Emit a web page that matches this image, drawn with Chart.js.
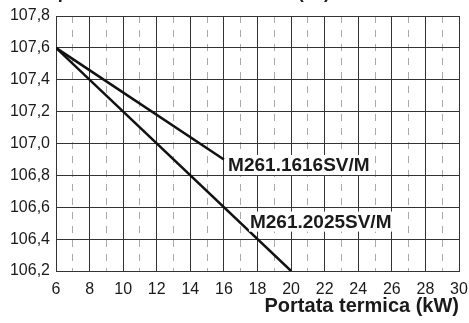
<!DOCTYPE html>
<html>
<head>
<meta charset="utf-8">
<script src="https://cdn.jsdelivr.net/npm/chart.js@4/dist/chart.umd.min.js"></script>
<style>
  html, body { margin: 0; padding: 0; background: #fff; }
  #wrap { width: 469px; height: 323px; }
</style>
</head>
<body>
<div id="wrap"><canvas id="myChart"></canvas></div>
<script>
const ctx = document.getElementById('myChart').getContext('2d');

// curve data (kW -> °C)
const loadKw1616 = [6, 16];
const tempC1616 = [107.6, 106.9];
const loadKw2025 = [6, 20];
const tempC2025 = [107.6, 106.2];

const seriesNames = ['M261.1616SV/M', 'M261.2025SV/M'];
// where each curve name sits, in data units (left edge, vertical middle)
const nameAnchorX = [16.25, 17.55];
const nameAnchorY = [106.865, 106.51];

const xMin = 6, xMax = 30;
const yMin = 106.2, yMax = 107.8;

const topTitle = 'Temperatura dei fumi di scarico (°C)';
const xTitle = 'Portata termica (kW)';

const FONT = 'Arial, "Liberation Sans", sans-serif';

function toPoints(xs, ys) {
    return xs.map((x, i) => ({ x: x, y: ys[i] }));
}

// names of the curves, on a white box
const curveNames = {
    id: 'curveNames',
    afterDatasetsDraw(chart) {
        const c = chart.ctx;
        const xs = chart.scales.x;
        const ys = chart.scales.y;
        c.save();
        c.font = 'bold 19px ' + FONT;
        c.textAlign = 'left';
        c.textBaseline = 'middle';
        seriesNames.forEach((name, i) => {
            const px = xs.getPixelForValue(nameAnchorX[i]);
            const py = ys.getPixelForValue(nameAnchorY[i]);
            const w = c.measureText(name).width;
            c.fillStyle = '#fff';
            c.fillRect(px - 1, py - 10, w + 2, 20);
            c.fillStyle = '#1a1a1a';
            c.fillText(name, px, py + 1);
        });
        c.restore();
    }
};

// heading clipped at the top edge
const topHeading = {
    id: 'topHeading',
    afterDraw(chart) {
        const c = chart.ctx;
        c.save();
        c.font = 'bold 18px ' + FONT;
        c.fillStyle = '#1a1a1a';
        c.textAlign = 'right';
        c.textBaseline = 'alphabetic';
        c.fillText(topTitle, 330, -2);
        c.restore();
    }
};

new Chart(ctx, {
    type: 'scatter',
    data: {
        datasets: [
            {
                label: seriesNames[0],
                data: toPoints(loadKw1616, tempC1616),
                showLine: true,
                borderColor: '#111',
                borderWidth: 2.5,
                pointRadius: 0
            },
            {
                label: seriesNames[1],
                data: toPoints(loadKw2025, tempC2025),
                showLine: true,
                borderColor: '#111',
                borderWidth: 2.5,
                pointRadius: 0
            }
        ]
    },
    options: {
        responsive: true,
        maintainAspectRatio: false,
        animation: false,
        layout: { padding: { top: 16, right: 10, left: 0, bottom: 5 } },
        plugins: {
            legend: { display: false },
            tooltip: { enabled: false }
        },
        scales: {
            x: {
                type: 'linear',
                min: xMin,
                max: xMax,
                afterFit: (s) => {
                    s.height = 47;
                    s.paddingLeft = 0;
                    s.paddingRight = 0;
                },
                ticks: {
                    stepSize: 1,
                    autoSkip: false,
                    maxRotation: 0,
                    padding: 9,
                    color: '#1a1a1a',
                    font: { family: FONT, size: 16 },
                    callback: (v) => (v % 2 === 0 ? String(v) : '')
                },
                grid: {
                    drawTicks: false,
                    color: (c) => (c.tick && c.tick.value % 2 !== 0 ? '#aaa' : '#333'),
                    lineWidth: 1
                },
                border: {
                    color: '#333',
                    dash: (c) => (c.tick && c.tick.value % 2 !== 0 ? [7, 7] : [])
                },
                title: {
                    display: true,
                    text: xTitle,
                    align: 'end',
                    color: '#1a1a1a',
                    font: { family: FONT, size: 20, weight: 'bold' },
                    padding: { top: 2, bottom: 0 }
                }
            },
            y: {
                type: 'linear',
                min: yMin,
                max: yMax,
                afterFit: (s) => {
                    s.width = 56;
                    s.paddingTop = 0;
                    s.paddingBottom = 0;
                },
                ticks: {
                    stepSize: 0.2,
                    padding: 6,
                    color: '#1a1a1a',
                    font: { family: FONT, size: 16 },
                    callback: (v) => v.toFixed(1).replace('.', ',')
                },
                grid: {
                    drawTicks: false,
                    color: '#333',
                    lineWidth: 1
                },
                border: { color: '#333' }
            }
        }
    },
    plugins: [curveNames, topHeading]
});
</script>
</body>
</html>
